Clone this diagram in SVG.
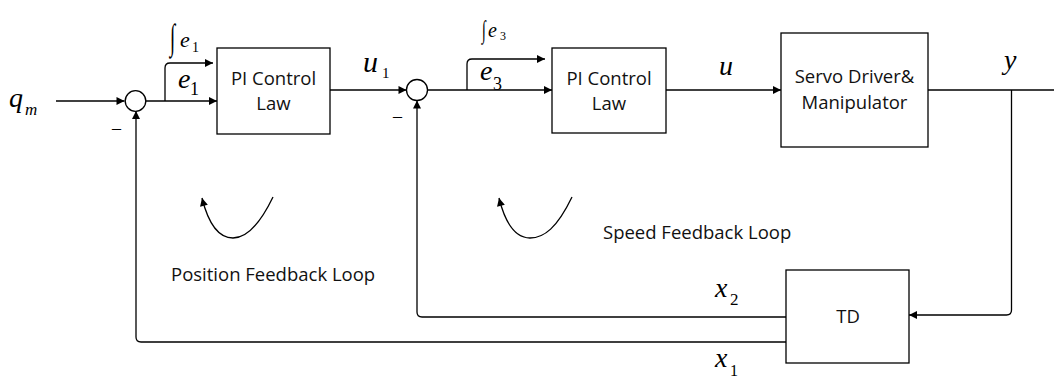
<svg xmlns="http://www.w3.org/2000/svg" width="1054" height="379" viewBox="0 0 1054 379">
<style>
.ln{fill:none;stroke:#000;stroke-width:1.3}
.bx{fill:#fff;stroke:#000;stroke-width:1.3}
.lbl{font-family:"Open Sans","Liberation Sans",sans-serif;font-size:18.5px;fill:#111}
.m{font-family:"Liberation Serif","Times New Roman",serif;font-style:italic;fill:#000}
.n{font-family:"Liberation Serif","Times New Roman",serif;fill:#000}
</style>
<defs>
<marker id="ah" viewBox="0 0 10 10" refX="10" refY="5" markerWidth="10" markerHeight="8" markerUnits="userSpaceOnUse" orient="auto">
<path d="M0,0 L10,5 L0,10 z" fill="#000"/>
</marker>
</defs>
<rect width="1054" height="379" fill="#fff"/>
<g id="connectors">
<path class="ln" d="M56,101 H124.5" marker-end="url(#ah)"/>
<path class="ln" d="M145.5,101 H217" marker-end="url(#ah)"/>
<path class="ln" d="M165,101 V68 Q165,63 170,63 H213" marker-end="url(#ah)"/>
<path class="ln" d="M330,90 H406.5" marker-end="url(#ah)"/>
<path class="ln" d="M427.5,90 H552" marker-end="url(#ah)"/>
<path class="ln" d="M467,90 V64 Q467,59 472,59 H545" marker-end="url(#ah)"/>
<path class="ln" d="M666,90 H781" marker-end="url(#ah)"/>
<path class="ln" d="M928,90 H1062" marker-end="url(#ah)"/>
<path class="ln" d="M1011.5,90 V310 Q1011.5,315 1006.5,315 H909" marker-end="url(#ah)"/>
<path class="ln" d="M786,317 H422 Q417,317 417,312 V100.5" marker-end="url(#ah)"/>
<path class="ln" d="M786,342 H141 Q136,342 136,337 V111" marker-end="url(#ah)"/>
<path class="ln" d="M273,197 C258,228 245,238 233,238 C218,238 208,222 202,198" marker-end="url(#ah)"/>
<path class="ln" d="M572,197 C557,228 544,238 530,238 C515,238 505,222 499,198" marker-end="url(#ah)"/>
</g>
<g id="sum1"><circle class="bx" cx="135.5" cy="101" r="10.3"/></g>
<g id="sum2"><circle class="bx" cx="417" cy="90" r="10.5"/></g>
<g id="pi1">
<rect class="bx" x="217" y="48" width="113" height="86"/>
<text class="lbl" x="273.5" y="85" text-anchor="middle">PI Control</text>
<text class="lbl" x="273.5" y="110" text-anchor="middle">Law</text>
</g>
<g id="pi2">
<rect class="bx" x="552" y="48" width="114" height="85"/>
<text class="lbl" x="609" y="85" text-anchor="middle">PI Control</text>
<text class="lbl" x="609" y="110" text-anchor="middle">Law</text>
</g>
<g id="servo">
<rect class="bx" x="781" y="33" width="147" height="114"/>
<text class="lbl" x="854.5" y="83" text-anchor="middle">Servo Driver&amp;</text>
<text class="lbl" x="854.5" y="109" text-anchor="middle">Manipulator</text>
</g>
<g id="td">
<rect class="bx" x="786" y="270" width="123" height="93"/>
<text class="lbl" x="848" y="323" text-anchor="middle">TD</text>
</g>
<g id="labels">
<text class="m" x="9" y="107" font-size="28">q</text>
<text class="m" x="25" y="115" font-size="17">m</text>
<text class="n" x="112" y="134" font-size="18">–</text>
<text class="n" x="393" y="122" font-size="18">–</text>
<text class="n" transform="translate(170,49) scale(0.8,1.5)" font-size="24">∫</text>
<text class="m" x="180" y="47" font-size="22">e</text>
<text class="n" x="192" y="52" font-size="14">1</text>
<text class="m" x="178" y="88" font-size="28">e</text>
<text class="n" x="190" y="95" font-size="18">1</text>
<text class="m" x="363" y="72" font-size="30">u</text>
<text class="n" x="382" y="78" font-size="15">1</text>
<text class="n" transform="translate(482,38) scale(0.8,1.4)" font-size="18">∫</text>
<text class="m" x="488" y="37" font-size="20">e</text>
<text class="n" x="500" y="40" font-size="12">3</text>
<text class="m" x="480" y="80" font-size="28">e</text>
<text class="n" x="493" y="90" font-size="18">3</text>
<text class="m" x="719" y="75" font-size="28">u</text>
<text class="m" x="1004" y="69" font-size="28">y</text>
<text class="m" x="715" y="297" font-size="28">x</text>
<text class="n" x="730" y="305" font-size="17">2</text>
<text class="m" x="715" y="367" font-size="28">x</text>
<text class="n" x="730" y="376" font-size="16">1</text>
<text class="lbl" x="171" y="281">Position Feedback Loop</text>
<text class="lbl" x="603" y="239">Speed Feedback Loop</text>
</g>
</svg>
